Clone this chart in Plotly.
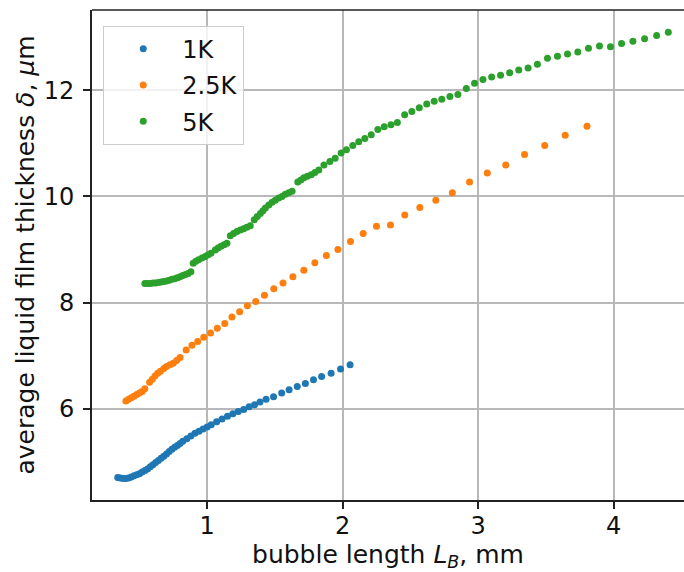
import plotly.graph_objects as go

# ---- data ----
x_1k = [0.34, 0.36, 0.38, 0.40, 0.42, 0.44, 0.46, 0.48, 0.50, 0.52, 0.54, 0.56, 0.58, 0.60,
        0.62, 0.64, 0.66, 0.68, 0.70, 0.72, 0.74, 0.76, 0.78, 0.80, 0.82, 0.85, 0.88, 0.91,
        0.94, 0.97, 1.00, 1.03, 1.07, 1.11, 1.15, 1.19, 1.23, 1.27, 1.31, 1.35, 1.39, 1.435,
        1.49, 1.55, 1.605, 1.665, 1.725, 1.785, 1.845, 1.915, 1.985, 2.055]
y_1k = [4.71, 4.70, 4.69, 4.69, 4.70, 4.72, 4.74, 4.76, 4.78, 4.81, 4.84, 4.87, 4.91, 4.95,
        4.99, 5.03, 5.07, 5.11, 5.15, 5.20, 5.24, 5.28, 5.31, 5.35, 5.39, 5.44, 5.49, 5.54,
        5.58, 5.62, 5.66, 5.70, 5.76, 5.81, 5.86, 5.91, 5.95, 5.99, 6.04, 6.08, 6.13, 6.18,
        6.23, 6.30, 6.36, 6.42, 6.48, 6.55, 6.61, 6.67, 6.75, 6.83]

x_25k = [0.40, 0.42, 0.44, 0.46, 0.48, 0.50, 0.52, 0.54, 0.575, 0.595, 0.615, 0.635, 0.655,
         0.68, 0.70, 0.725, 0.75, 0.775, 0.80, 0.845, 0.888, 0.93, 0.975, 1.025, 1.075, 1.13,
         1.183, 1.24, 1.297, 1.359, 1.423, 1.492, 1.56, 1.633, 1.714, 1.795, 1.88, 1.965,
         2.058, 2.152, 2.25, 2.353, 2.459, 2.57, 2.688, 2.81, 2.937, 3.068, 3.204, 3.343,
         3.492, 3.643, 3.804]
y_25k = [6.15, 6.18, 6.21, 6.24, 6.27, 6.30, 6.33, 6.38, 6.50, 6.56, 6.62, 6.67, 6.71,
         6.76, 6.80, 6.83, 6.86, 6.91, 6.97, 7.11, 7.20, 7.27, 7.35, 7.43, 7.52, 7.61,
         7.73, 7.83, 7.94, 8.02, 8.14, 8.26, 8.37, 8.49, 8.61, 8.75, 8.89, 9.00,
         9.15, 9.30, 9.44, 9.46, 9.65, 9.79, 9.93, 10.07, 10.27, 10.44, 10.59, 10.79,
         10.96, 11.15, 11.32]

x_5k = [0.54, 0.56, 0.58, 0.60, 0.62, 0.64, 0.66, 0.68, 0.70, 0.72, 0.74, 0.76, 0.78, 0.80,
        0.82, 0.84, 0.86, 0.88, 0.897, 0.917, 0.937, 0.962, 0.986, 1.007, 1.028, 1.06, 1.08,
        1.102, 1.125, 1.146, 1.171, 1.195, 1.22, 1.245, 1.269, 1.293, 1.318, 1.348, 1.37,
        1.393, 1.412, 1.43, 1.455, 1.479, 1.503, 1.528, 1.552, 1.577, 1.602, 1.627, 1.669,
        1.692, 1.714, 1.74, 1.768, 1.795, 1.824, 1.862, 1.906, 1.945, 1.989, 2.028, 2.075,
        2.119, 2.164, 2.211, 2.26, 2.307, 2.357, 2.404, 2.458, 2.511, 2.566, 2.621, 2.676,
        2.732, 2.792, 2.851, 2.913, 2.974, 3.036, 3.10, 3.166, 3.233, 3.30, 3.369, 3.438,
        3.512, 3.586, 3.66, 3.736, 3.815, 3.896, 3.977, 4.059, 4.143, 4.229, 4.318, 4.404]
y_5k = [8.36, 8.36, 8.36, 8.37, 8.37, 8.38, 8.39, 8.40, 8.41, 8.42, 8.44, 8.45, 8.47, 8.49,
        8.51, 8.53, 8.55, 8.58, 8.74, 8.78, 8.81, 8.84, 8.87, 8.90, 8.93, 8.99, 9.03,
        9.06, 9.09, 9.12, 9.26, 9.30, 9.34, 9.37, 9.39, 9.42, 9.45, 9.56, 9.62,
        9.68, 9.73, 9.78, 9.84, 9.89, 9.93, 9.97, 10.00, 10.04, 10.07, 10.10, 10.27,
        10.31, 10.35, 10.38, 10.41, 10.45, 10.50, 10.59, 10.66, 10.72, 10.82, 10.88, 10.96,
        11.03, 11.09, 11.16, 11.26, 11.31, 11.35, 11.39, 11.54, 11.60, 11.67, 11.74, 11.79,
        11.83, 11.88, 11.92, 12.03, 12.13, 12.20, 12.25, 12.28, 12.33, 12.38, 12.42, 12.49,
        12.60, 12.64, 12.68, 12.72, 12.79, 12.83, 12.82, 12.88, 12.92, 12.97, 13.03, 13.09]

series_names = ["1K", "2.5K", "5K"]
colors = ["#1f77b4", "#ff7f0e", "#2ca02c"]

FONT = "DejaVu Sans"

fig = go.Figure()
for name, xs, ys, c in zip(series_names, [x_1k, x_25k, x_5k], [y_1k, y_25k, y_5k], colors):
    fig.add_trace(go.Scatter(x=xs, y=ys, mode="markers", name=name, legendgroup=name,
                             marker=dict(color=c, size=7, line=dict(width=0))))

axis_common = dict(
    showgrid=True, gridcolor="#b8b8b8", gridwidth=1.5,
    showline=True, linecolor="#222222", linewidth=1.6,
    ticks="outside", ticklen=7, tickwidth=1.6, tickcolor="#222222",
    zeroline=False, tickfont=dict(family=FONT, size=24, color="#111111"),
    mirror=False,
)

fig.update_xaxes(range=[0.15, 4.52], tickvals=[1, 2, 3, 4], ticklabelstandoff=-4,
                 title=dict(text="bubble length <i>L</i><sub><i>B</i></sub>, mm",
                            font=dict(family=FONT, size=25, color="#111111"), standoff=1),
                 **axis_common)
fig.update_yaxes(range=[4.285, 13.51], tickvals=[6, 8, 10, 12], ticklabelstandoff=4,
                 title=dict(text="average liquid film thickness <i>δ</i>, <i>μ</i>m",
                            font=dict(family=FONT, size=25, color="#111111"), standoff=2),
                 **axis_common)

fig.add_shape(type="line", xref="paper", yref="paper", x0=0, x1=1, y0=1, y1=1,
              line=dict(color="#222222", width=1.6))

fig.update_layout(
    width=684, height=572,
    margin=dict(l=92, r=0, t=10, b=72),
    plot_bgcolor="white", paper_bgcolor="white",
    font=dict(family=FONT, color="#111111"),
    legend=dict(x=0.019, y=0.968, xanchor="left", yanchor="top",
                bgcolor="rgba(255,255,255,0.8)", bordercolor="#cccccc", borderwidth=1,
                font=dict(family=FONT, size=24, color="#111111"),
                itemwidth=68, tracegroupgap=2),
)

fig.write_html("out.html")
